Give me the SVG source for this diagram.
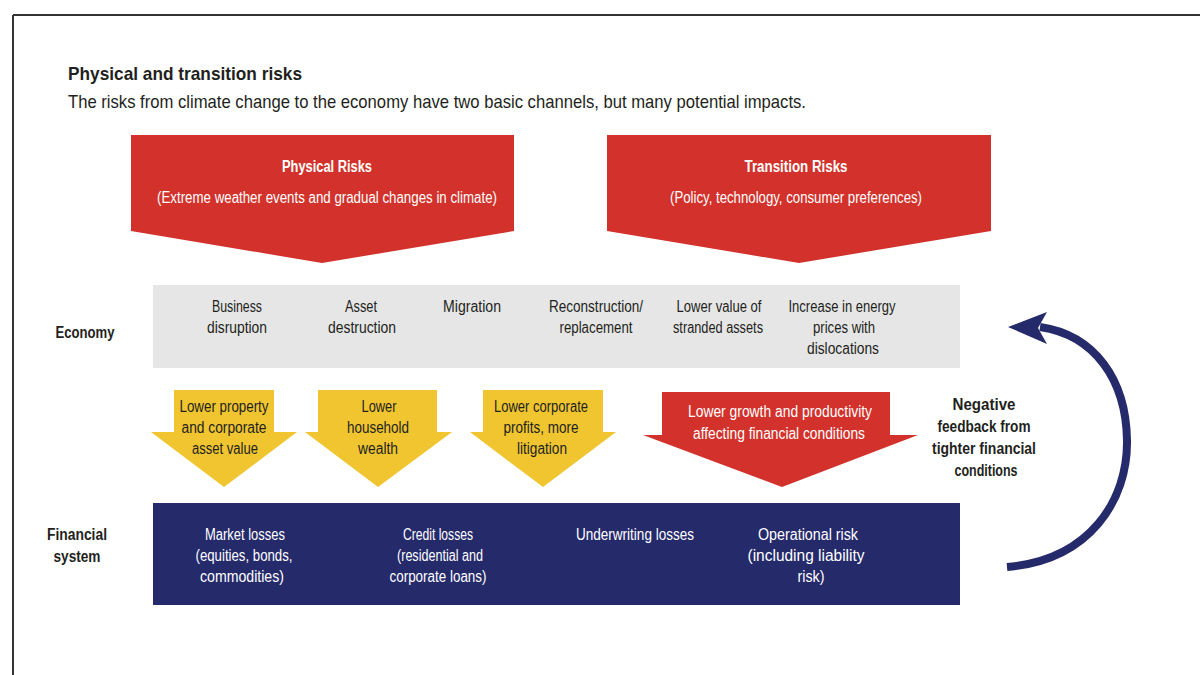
<svg xmlns="http://www.w3.org/2000/svg" width="1200" height="675" viewBox="0 0 1200 675">
<style>
text{font-family:"Liberation Sans",Arial,sans-serif;}
.t{font-size:16px;text-anchor:middle;}
.w{fill:#ffffff;}
.k{fill:#231f20;}
.b{font-weight:bold;}
.red{fill:#d2322b;}
.yel{fill:#f0c530;}
.navy{fill:#252a6b;}
.gray{fill:#e6e6e6;}
</style>
<g id="frame">
<line x1="13" y1="15" x2="1200" y2="15" stroke="#333" stroke-width="2"/>
<line x1="13" y1="15" x2="13" y2="675" stroke="#333" stroke-width="2"/>
</g>
<g id="title">
<text x="68" y="80" font-size="19" font-weight="bold" fill="#231f20" textLength="234" lengthAdjust="spacingAndGlyphs">Physical and transition risks</text>
<text x="68" y="108" font-size="19" fill="#231f20" textLength="738" lengthAdjust="spacingAndGlyphs">The risks from climate change to the economy have two basic channels, but many potential impacts.</text>
</g>
<g id="physical">
<polygon class="red" points="131,135 514,135 514,231 322,263 131,231"/>
<text class="t w b" x="327" y="172" textLength="90" lengthAdjust="spacingAndGlyphs">Physical Risks</text>
<text class="t w" x="327" y="203" textLength="340" lengthAdjust="spacingAndGlyphs">(Extreme weather events and gradual changes in climate)</text>
</g>
<g id="transition">
<polygon class="red" points="607,135 991,135 991,231 799,263 607,231"/>
<text class="t w b" x="796" y="172" textLength="103" lengthAdjust="spacingAndGlyphs">Transition Risks</text>
<text class="t w" x="796" y="203" textLength="252" lengthAdjust="spacingAndGlyphs">(Policy, technology, consumer preferences)</text>
</g>
<g id="economy-label">
<text class="t k b" x="85" y="338" textLength="59" lengthAdjust="spacingAndGlyphs">Economy</text>
</g>
<g id="economy">
<rect class="gray" x="153" y="285" width="807" height="83"/>
<text class="t k" x="237" y="312" textLength="50" lengthAdjust="spacingAndGlyphs">Business</text>
<text class="t k" x="237" y="333" textLength="60" lengthAdjust="spacingAndGlyphs">disruption</text>
<text class="t k" x="361" y="312" textLength="32" lengthAdjust="spacingAndGlyphs">Asset</text>
<text class="t k" x="362" y="333" textLength="68" lengthAdjust="spacingAndGlyphs">destruction</text>
<text class="t k" x="472" y="312" textLength="58" lengthAdjust="spacingAndGlyphs">Migration</text>
<text class="t k" x="596" y="312" textLength="94" lengthAdjust="spacingAndGlyphs">Reconstruction/</text>
<text class="t k" x="596" y="333" textLength="73" lengthAdjust="spacingAndGlyphs">replacement</text>
<text class="t k" x="719" y="312" textLength="85" lengthAdjust="spacingAndGlyphs">Lower value of</text>
<text class="t k" x="718" y="333" textLength="90" lengthAdjust="spacingAndGlyphs">stranded assets</text>
<text class="t k" x="842" y="312" textLength="107" lengthAdjust="spacingAndGlyphs">Increase in energy</text>
<text class="t k" x="844" y="333" textLength="62" lengthAdjust="spacingAndGlyphs">prices with</text>
<text class="t k" x="843" y="354" textLength="72" lengthAdjust="spacingAndGlyphs">dislocations</text>
</g>
<g id="arrow-property">
<polygon class="yel" points="174,390 274,390 274,432 297,432 224,487 151,432 174,432"/>
<text class="t k" x="224" y="412" textLength="89" lengthAdjust="spacingAndGlyphs">Lower property</text>
<text class="t k" x="224" y="433" textLength="85" lengthAdjust="spacingAndGlyphs">and  corporate</text>
<text class="t k" x="225" y="454" textLength="66" lengthAdjust="spacingAndGlyphs">asset value</text>
</g>
<g id="arrow-household">
<polygon class="yel" points="318,390 437,390 437,432 452,432 378,487 305,432 318,432"/>
<text class="t k" x="379" y="412" textLength="35" lengthAdjust="spacingAndGlyphs">Lower</text>
<text class="t k" x="378" y="433" textLength="62" lengthAdjust="spacingAndGlyphs">household</text>
<text class="t k" x="378" y="454" textLength="40" lengthAdjust="spacingAndGlyphs">wealth</text>
</g>
<g id="arrow-corporate">
<polygon class="yel" points="483,390 603,390 603,432 616,432 543,487 470,432 483,432"/>
<text class="t k" x="541" y="412" textLength="94" lengthAdjust="spacingAndGlyphs">Lower corporate</text>
<text class="t k" x="541" y="433" textLength="75" lengthAdjust="spacingAndGlyphs">profits, more</text>
<text class="t k" x="542" y="454" textLength="50" lengthAdjust="spacingAndGlyphs">litigation</text>
</g>
<g id="arrow-growth">
<polygon class="red" points="662,392 890,392 890,435 918,435 782,487 643,435 662,435"/>
<text class="t w" x="780" y="417" textLength="184" lengthAdjust="spacingAndGlyphs">Lower growth and productivity</text>
<text class="t w" x="779" y="439" textLength="172" lengthAdjust="spacingAndGlyphs">affecting financial conditions</text>
</g>
<g id="feedback-label">
<text class="t k b" x="984" y="410" textLength="63" lengthAdjust="spacingAndGlyphs">Negative</text>
<text class="t k b" x="984" y="432" textLength="93" lengthAdjust="spacingAndGlyphs">feedback from</text>
<text class="t k b" x="984" y="454" textLength="104" lengthAdjust="spacingAndGlyphs">tighter financial</text>
<text class="t k b" x="986" y="476" textLength="63" lengthAdjust="spacingAndGlyphs">conditions</text>
</g>
<g id="financial-label">
<text class="t k b" x="77" y="540" textLength="60" lengthAdjust="spacingAndGlyphs">Financial</text>
<text class="t k b" x="77" y="562" textLength="47" lengthAdjust="spacingAndGlyphs">system</text>
</g>
<g id="financial">
<rect class="navy" x="153" y="503" width="807" height="102"/>
<text class="t w" x="245" y="540" textLength="80" lengthAdjust="spacingAndGlyphs">Market losses</text>
<text class="t w" x="244" y="561" textLength="97" lengthAdjust="spacingAndGlyphs">(equities, bonds,</text>
<text class="t w" x="242" y="582" textLength="84" lengthAdjust="spacingAndGlyphs">commodities)</text>
<text class="t w" x="438" y="540" textLength="70" lengthAdjust="spacingAndGlyphs">Credit losses</text>
<text class="t w" x="440" y="561" textLength="86" lengthAdjust="spacingAndGlyphs">(residential and</text>
<text class="t w" x="438" y="582" textLength="97" lengthAdjust="spacingAndGlyphs">corporate loans)</text>
<text class="t w" x="635" y="540" textLength="118" lengthAdjust="spacingAndGlyphs">Underwriting losses</text>
<text class="t w" x="808" y="540" textLength="100" lengthAdjust="spacingAndGlyphs">Operational risk</text>
<text class="t w" x="806" y="561" textLength="117" lengthAdjust="spacingAndGlyphs">(including liability</text>
<text class="t w" x="811" y="582" textLength="27" lengthAdjust="spacingAndGlyphs">risk)</text>
</g>
<g id="connectors">
<path d="M1007,567 C1090,560 1128,500 1127,440 C1126,380 1095,335 1040,327" fill="none" stroke="#252a6b" stroke-width="8"/>
<polygon class="navy" points="1008,327 1047,312 1038,328 1047,344"/>
</g>
</svg>
